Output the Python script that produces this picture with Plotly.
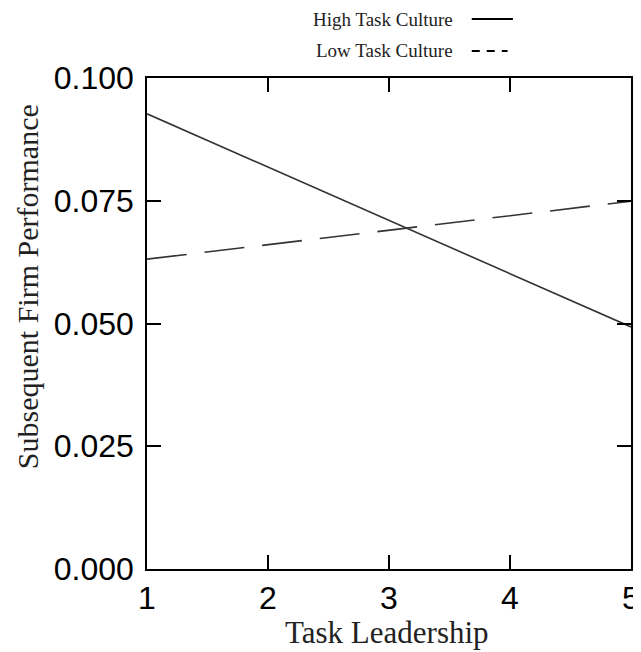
import plotly.graph_objects as go

task_leadership = [1, 5]
high_culture = [0.0927, 0.0493]
low_culture = [0.0631, 0.0749]
series_names = ["High Task Culture", "Low Task Culture"]
x_ticks = [1, 2, 3, 4, 5]
y_ticks = [0.0, 0.025, 0.05, 0.075, 0.1]
y_tick_labels = ["0.000", "0.025", "0.050", "0.075", "0.100"]

line_color = "#333333"
serif = "Liberation Serif, Times New Roman"

fig = go.Figure()
fig.add_trace(go.Scatter(x=task_leadership, y=high_culture, mode="lines",
                         name=series_names[0],
                         line=dict(color=line_color, width=1.6)))
fig.add_trace(go.Scatter(x=task_leadership, y=low_culture, mode="lines",
                         name=series_names[1],
                         line=dict(color=line_color, width=1.6, dash="40px,18px")))

axis_common = dict(
    showline=True, linecolor="black", linewidth=1.5, mirror="ticks",
    ticks="inside", ticklen=14, tickwidth=1.5, tickcolor="black",
    showgrid=False, zeroline=False, automargin=False,
    tickfont=dict(family="Liberation Sans, Arial", size=32, color="black"),
)

fig.update_xaxes(range=[1, 5], tickvals=x_ticks, ticktext=[str(v) for v in x_ticks],
                 **axis_common)
fig.update_yaxes(range=[0, 0.1], tickvals=y_ticks, ticktext=y_tick_labels,
                 ticklabelstandoff=5, **axis_common)

# axis titles placed as annotations
fig.add_annotation(xref="paper", yref="paper", x=0.496, y=-0.130,
                   text="Task Leadership",
                   showarrow=False, xanchor="center", yanchor="middle",
                   font=dict(family=serif, size=31, color="#222"))
fig.add_annotation(xref="paper", yref="paper", x=-0.248, y=0.576,
                   text="Subsequent Firm Performance", textangle=-90,
                   showarrow=False, xanchor="center", yanchor="middle",
                   font=dict(family=serif, size=30, color="#222"))

# legend drawn as text followed by line samples (as in reference)
legend_y = [1.120, 1.055]
legend_dash = ["solid", "8px,7px"]
legend_x1 = [0.756, 0.745]
for name, ly, dsh, lx1 in zip(series_names, legend_y, legend_dash, legend_x1):
    fig.add_annotation(xref="paper", yref="paper", x=0.636, y=ly, text=name,
                       showarrow=False, xanchor="right", yanchor="middle",
                       font=dict(family=serif, size=19, color="#222"))
    fig.add_shape(type="line", xref="paper", yref="paper", x0=0.671, x1=lx1, y0=ly, y1=ly,
                  line=dict(color="black", width=2, dash=dsh))

fig.update_layout(
    width=633, height=644,
    margin=dict(l=139, r=10, t=70, b=83),
    plot_bgcolor="white", paper_bgcolor="white",
    showlegend=False,
)

fig.write_html("out.html")
